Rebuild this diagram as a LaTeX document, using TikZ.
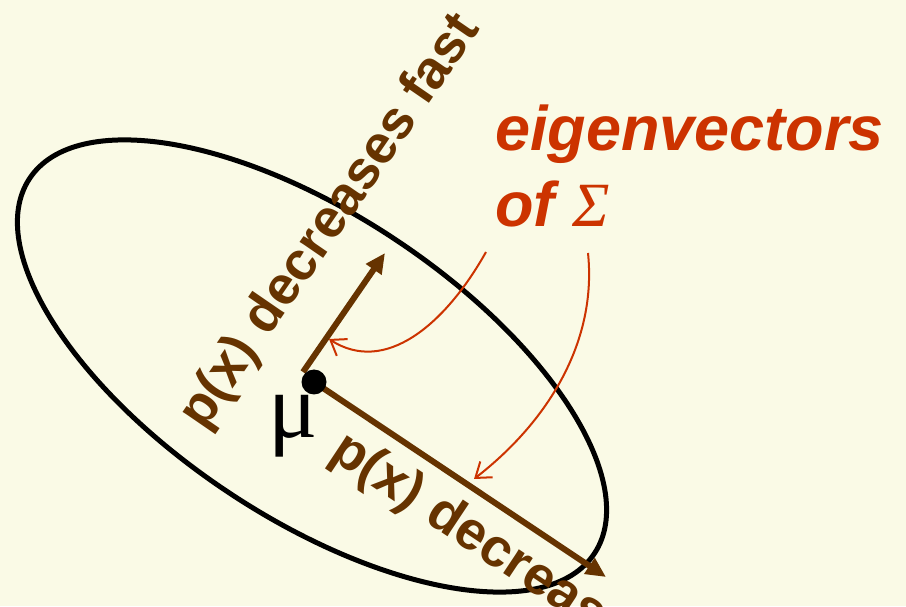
\documentclass[tikz,border=0pt]{standalone}
\usepackage{fontspec}
\setmainfont{Liberation Sans}
\newfontfamily\serifgreek{Liberation Serif}
\usetikzlibrary{arrows.meta}
\definecolor{bg}{RGB}{250,250,230}
\definecolor{brownc}{RGB}{102,51,0}
\definecolor{redc}{RGB}{204,51,0}
\tikzset{
  vec/.style={draw=brownc, line width=6pt, -{Triangle[length=20pt,width=18pt]}},
  pointer/.style={draw=redc, line width=2pt, -{Straight Barb[length=14pt,width=20pt]}},
  brownlbl/.style={text=brownc, font=\fontsize{54}{60}\selectfont\bfseries, inner sep=0pt},
  redlbl/.style={text=redc, font=\fontsize{63}{70}\selectfont\bfseries\itshape, inner sep=0pt, anchor=base west},
}
\begin{document}
\begin{tikzpicture}[x=1pt,y=1pt]
\fill[bg] (0,0) rectangle (906,606);
\useasboundingbox (0,0) rectangle (906,606);
% ellipse
\draw[line width=5pt, rotate around={-33.6:(312,240)}] (312,240) ellipse [x radius=339, y radius=151.5];
% coordinates
\coordinate (mu) at (314,224);
\coordinate (v1s) at (303,234);
\coordinate (v1t) at (385,353);
\coordinate (v2t) at (606,29);
\draw[vec] (v1s) -- (v1t);
\draw[vec] (mu) -- (v2t);
\node[circle, fill=black, minimum size=25pt, inner sep=0pt] (dot) at (mu) {};
\node[font=\serifgreek\fontsize{92}{100}\selectfont, inner sep=0pt] (mulbl) at (293,180) {μ};
% rotated labels
\node[brownlbl, anchor=base west, rotate=55.5] (fast) at (204,174) {p(x) decreases fast};
\node[brownlbl, anchor=base west, rotate=-33.6] (slow) at (328,149) {p(x) decreas};
% eigenvector label
\node[redlbl] (eig) at (495,455) {eigenvectors};
\node[redlbl] (of) at (495,379) {of {\serifgreek\mdseries Σ}};
% pointers
\coordinate (p1s) at (486,354);
\coordinate (p1e) at (329,267);
\coordinate (p2s) at (588,353);
\coordinate (p2e) at (474,127);
\draw[pointer] (p1s) .. controls (445,281) and (385,231) .. (p1e);
\draw[pointer] (p2s) .. controls (597,266) and (550,186) .. (p2e);
\end{tikzpicture}
\end{document}
